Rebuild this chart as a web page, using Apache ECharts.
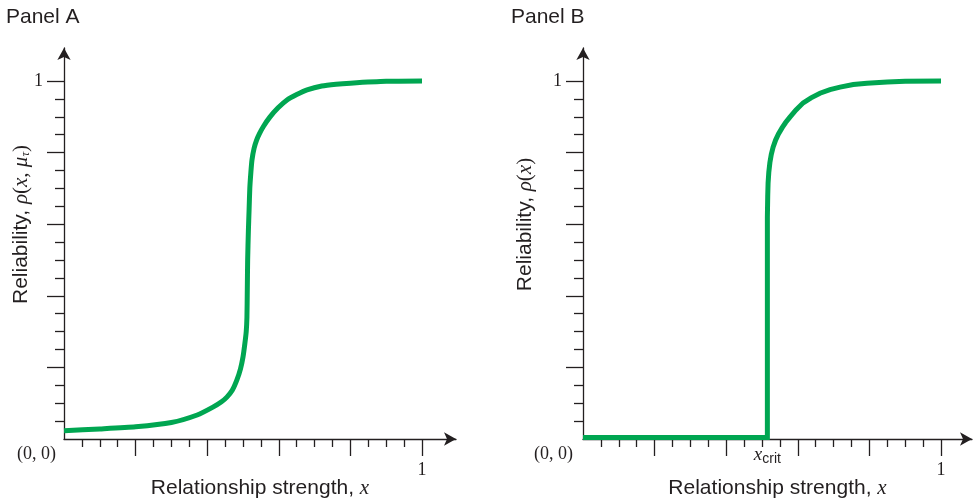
<!DOCTYPE html>
<html>
<head>
<meta charset="utf-8">
<script src="https://cdn.jsdelivr.net/npm/echarts@6/dist/echarts.min.js"></script>
<style>html,body{margin:0;padding:0;background:#fff;}#c{width:978px;height:503px;}</style>
</head>
<body>
<div id="c"></div>
<script>
// ---- data ----
const panelTitles = ['Panel A', 'Panel B'];
const xName = 'Relationship strength, ';
const panelAX = [0, 0.1, 0.2, 0.3, 0.372, 0.416, 0.44, 0.455, 0.47, 0.483, 0.493, 0.5, 0.505, 0.509, 0.511, 0.512, 0.513, 0.515, 0.517, 0.519, 0.522, 0.525, 0.531, 0.538, 0.546, 0.557, 0.575, 0.598, 0.623, 0.65, 0.679, 0.72, 0.76, 0.8, 0.9, 1.0];
const panelAY = [0.023, 0.028, 0.034, 0.046, 0.067, 0.089, 0.104, 0.117, 0.136, 0.165, 0.196, 0.229, 0.265, 0.30, 0.34, 0.416, 0.50, 0.58, 0.640, 0.70, 0.745, 0.779, 0.812, 0.835, 0.853, 0.873, 0.899, 0.925, 0.947, 0.962, 0.975, 0.986, 0.991, 0.994, 0.999, 1.0];
const xCrit = 0.515;
const panelBX = [0, xCrit, xCrit, 0.516, 0.517, 0.519, 0.522, 0.526, 0.531, 0.538, 0.546, 0.556, 0.566, 0.578, 0.595, 0.615, 0.637, 0.662, 0.69, 0.718, 0.755, 0.793, 0.85, 0.9, 1.0];
const panelBY = [0.004, 0.004, 0.62, 0.68, 0.715, 0.745, 0.772, 0.795, 0.815, 0.835, 0.852, 0.869, 0.884, 0.899, 0.919, 0.939, 0.953, 0.966, 0.976, 0.983, 0.99, 0.994, 0.997, 0.999, 1.0];
const minorTicks = [0.05, 0.1, 0.15, 0.25, 0.3, 0.35, 0.45, 0.5, 0.55, 0.65, 0.7, 0.75, 0.85, 0.9, 0.95];
const majorTicks = [0.2, 0.4, 0.6, 0.8, 1];
const endLabels = [1];
const originLabel = '(0, 0)';

// ---- layout / style ----
const INK = '#231f20';
const GREEN = '#00a651';
const SANS = 'Liberation Sans';
const SERIF = 'Liberation Serif';
const grids = [
  {left: 64, top: 48, width: 392, height: 391, xMax: 392 / 358, yMax: 391 / 358, nameGapY: 32, originMargin: 8},
  {left: 583, top: 48, width: 389, height: 391, xMax: 389 / 358, yMax: 391 / 358, nameGapY: 47, originMargin: 10}
];
const mathRich = {
  s: {fontFamily: SANS, fontSize: 21, color: INK, lineHeight: 22},
  m: {fontFamily: SERIF, fontStyle: 'italic', fontSize: 21, color: INK, lineHeight: 22},
  p: {fontFamily: SERIF, fontSize: 21, color: INK, lineHeight: 22},
  sub: {fontFamily: SERIF, fontStyle: 'italic', fontSize: 13, color: INK, lineHeight: 9, verticalAlign: 'bottom'},
  xm: {fontFamily: SERIF, fontStyle: 'italic', fontSize: 19, color: INK, lineHeight: 22},
  xs: {fontFamily: SANS, fontSize: 14, color: INK, lineHeight: 10, verticalAlign: 'bottom'}
};
const yNames = [
  '{s|Reliability, }{m|ρ}{p|(}{m|x}{p|, }{m|μ}{sub|τ}{p|)}',
  '{s|Reliability, }{m|ρ}{p|(}{m|x}{p|)}'
];

const xAxes = [], yAxes = [];
grids.forEach((g, i) => {
  // main x axis: line with arrow, minor ticks, label "1", name
  xAxes.push({
    type: 'value', gridIndex: i, position: 'bottom', min: 0, max: g.xMax,
    splitLine: {show: false},
    axisLine: {show: true, onZero: false, symbol: ['none', 'arrow'], symbolSize: [10, 12],
      lineStyle: {color: INK, width: 1.3}},
    axisTick: {show: true, customValues: minorTicks, length: 8, lineStyle: {color: INK, width: 1.3}},
    axisLabel: {show: true, customValues: endLabels, margin: 22, formatter: v => String(v),
      fontFamily: SERIF, fontSize: 18, color: INK},
    name: '{s|' + xName + '}{m|x}', nameLocation: 'middle', nameGap: 38, nameMoveOverlap: false,
    nameTextStyle: {rich: mathRich}
  });
  // secondary x axis: major ticks (and x_crit label in panel B)
  xAxes.push({
    type: 'value', gridIndex: i, position: 'bottom', min: 0, max: g.xMax,
    splitLine: {show: false}, axisLine: {show: false, onZero: false},
    axisTick: {show: true, customValues: majorTicks, length: 17, lineStyle: {color: INK, width: 1.3}},
    axisLabel: i === 1
      ? {show: true, customValues: [xCrit], margin: 5, formatter: () => '{xm|x}{xs|crit}', rich: mathRich}
      : {show: false}
  });
  // main y axis
  yAxes.push({
    type: 'value', gridIndex: i, position: 'left', min: 0, max: g.yMax,
    splitLine: {show: false},
    axisLine: {show: true, onZero: false, symbol: ['none', 'arrow'], symbolSize: [10, 12],
      lineStyle: {color: INK, width: 1.3}},
    axisTick: {show: true, customValues: minorTicks, length: 9, lineStyle: {color: INK, width: 1.3}},
    axisLabel: {show: true, customValues: endLabels, margin: 21, formatter: v => String(v),
      fontFamily: SERIF, fontSize: 18, color: INK},
    name: yNames[i], nameLocation: 'middle', nameGap: g.nameGapY, nameMoveOverlap: false,
    nameTextStyle: {rich: mathRich, padding: [0, 0, 0, 38]}
  });
  // secondary y axis: major ticks and origin label
  yAxes.push({
    type: 'value', gridIndex: i, position: 'left', min: 0, max: g.yMax,
    splitLine: {show: false}, axisLine: {show: false, onZero: false},
    axisTick: {show: true, customValues: majorTicks, length: 17, lineStyle: {color: INK, width: 1.3}},
    axisLabel: {show: true, customValues: [0], margin: g.originMargin, formatter: () => originLabel,
      fontFamily: SERIF, fontSize: 18, color: INK, verticalAlign: 'top', lineHeight: 30}
  });
});

const zip = (xs, ys) => xs.map((x, k) => [x, ys[k]]);

const option = {
  animation: false,
  backgroundColor: '#fff',
  title: panelTitles.map((t, i) => ({
    text: t, left: i === 0 ? 6 : 511, top: 7, padding: 0,
    textStyle: {fontFamily: SANS, fontSize: 21, fontWeight: 'normal', color: INK}
  })),
  grid: grids.map(g => ({left: g.left, top: g.top, width: g.width, height: g.height,
    containLabel: false, outerBoundsMode: 'none'})),
  xAxis: xAxes,
  yAxis: yAxes,
  series: [
    {type: 'line', xAxisIndex: 0, yAxisIndex: 0, data: zip(panelAX, panelAY), showSymbol: false,
      smooth: 0.2, lineStyle: {color: GREEN, width: 5, cap: 'butt', join: 'round'}},
    {type: 'line', xAxisIndex: 2, yAxisIndex: 2, data: zip(panelBX, panelBY), showSymbol: false,
      smooth: false, lineStyle: {color: GREEN, width: 5, cap: 'butt', join: 'miter'}}
  ]
};
const chart = echarts.init(document.getElementById('c'), null, {renderer: 'canvas'});
chart.setOption(option);
</script>
</body>
</html>
